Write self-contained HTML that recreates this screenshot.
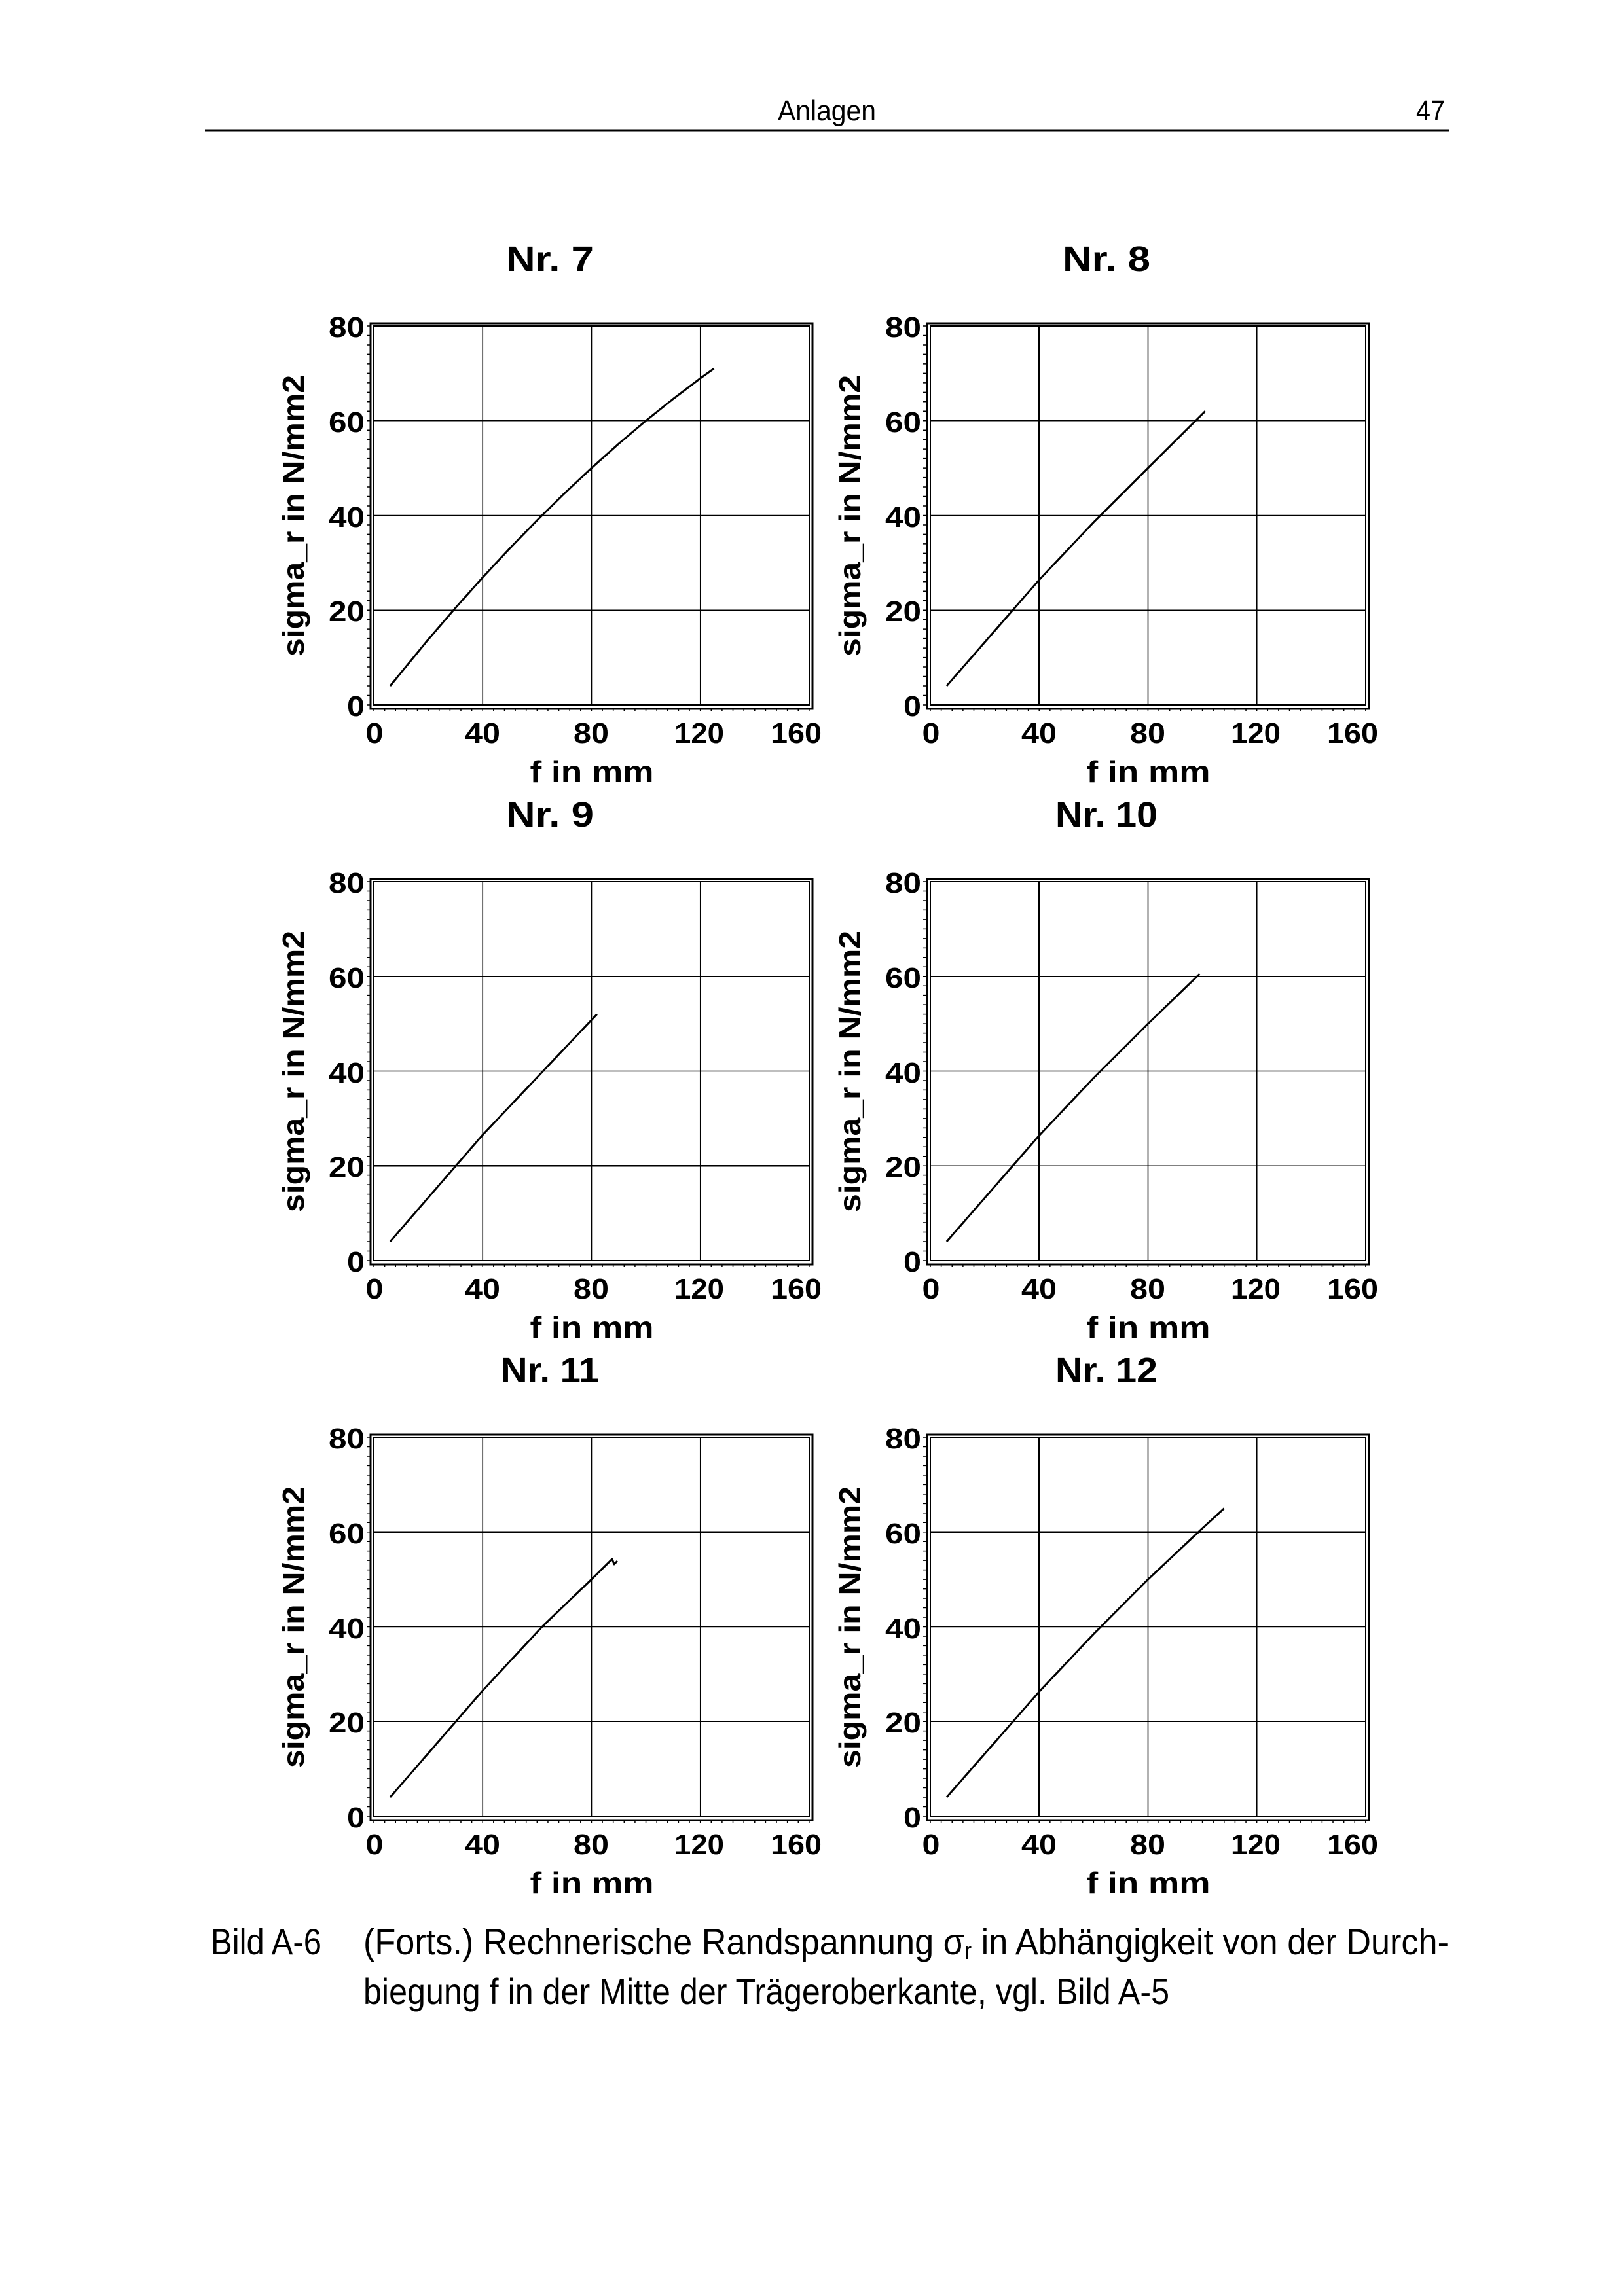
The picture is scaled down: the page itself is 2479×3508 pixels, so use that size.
<!DOCTYPE html>
<html><head><meta charset="utf-8"><style>
html,body{margin:0;padding:0;background:#fff}
svg{display:block}
text{font-family:"Liberation Sans",Arial,sans-serif;fill:#000}
.t{font-size:44px;font-weight:bold}
.ax{font-size:46px;font-weight:bold}
.ti{font-size:54px;font-weight:bold}
</style></head><body>
<svg width="2479" height="3508" viewBox="0 0 2479 3508" xmlns="http://www.w3.org/2000/svg">
<defs>
<g id="frame" fill="none" stroke="#000">
<rect x="-5" y="-4" width="675" height="589" stroke-width="3"/>
<rect x="0" y="0" width="665" height="579" stroke-width="2"/>
<path d="M166.25 0V579M332.5 0V579M498.75 0V579M0 144.75H665M0 289.5H665M0 434.25H665" stroke-width="1.6"/>
<line x1="-8" y1="-0.75" x2="-8" y2="580" stroke-width="6" stroke-dasharray="1.5 12.97375"/>
<line x1="-0.75" y1="587" x2="666" y2="587" stroke-width="4" stroke-dasharray="1.5 15.122"/>
</g>
<g id="lab">
<g class="t" text-anchor="end"><text x="-14" y="17" textLength="55" lengthAdjust="spacingAndGlyphs">80</text><text x="-14" y="162" textLength="55" lengthAdjust="spacingAndGlyphs">60</text><text x="-14" y="307" textLength="55" lengthAdjust="spacingAndGlyphs">40</text><text x="-14" y="451" textLength="55" lengthAdjust="spacingAndGlyphs">20</text><text x="-14" y="596" textLength="27" lengthAdjust="spacingAndGlyphs">0</text></g>
<g class="t" text-anchor="middle"><text x="1" y="637" textLength="27" lengthAdjust="spacingAndGlyphs">0</text><text x="166" y="637" textLength="54" lengthAdjust="spacingAndGlyphs">40</text><text x="332" y="637" textLength="54" lengthAdjust="spacingAndGlyphs">80</text><text x="497" y="637" textLength="76" lengthAdjust="spacingAndGlyphs">120</text><text x="645" y="637" textLength="78" lengthAdjust="spacingAndGlyphs">160</text></g>
<text class="ax" x="333" y="697" text-anchor="middle" textLength="189" lengthAdjust="spacingAndGlyphs">f in mm</text>
<text class="ax" transform="translate(-107,290) rotate(-90)" text-anchor="middle" textLength="430" lengthAdjust="spacingAndGlyphs">sigma_r in N/mm2</text>
</g>
</defs>

<text x="1188" y="184" font-size="44" textLength="150" lengthAdjust="spacingAndGlyphs">Anlagen</text>
<text x="2163" y="184" font-size="44" textLength="44" lengthAdjust="spacingAndGlyphs">47</text>
<line x1="313" y1="199" x2="2213" y2="199" stroke="#000" stroke-width="3"/>

<g transform="translate(571,498)">
<use href="#frame"/><use href="#lab"/>
<path d="M24.9,550 L83.1,479.1 L124.7,430.8 L166.2,384.3 L207.8,339.7 L249.4,296.9 L290.9,256.1 L332.5,217.1 L374,180 L415.6,144.75 L457.2,111.5 L498.7,80 L519.5,65.1" fill="none" stroke="#000" stroke-width="3" stroke-linejoin="round"/>
<text class="ti" x="269" y="-84" text-anchor="middle" textLength="134" lengthAdjust="spacingAndGlyphs">Nr. 7</text>
</g>

<g transform="translate(1421,498)">
<use href="#frame"/><use href="#lab"/>
<path d="M166.25 0V579" stroke="#000" stroke-width="2.6"/>
<path d="M24.9,550 L166.2,388 L249.4,300 L332.5,217.1 L419.8,130.3" fill="none" stroke="#000" stroke-width="3" stroke-linejoin="round"/>
<text class="ti" x="269" y="-84" text-anchor="middle" textLength="134" lengthAdjust="spacingAndGlyphs">Nr. 8</text>
</g>

<g transform="translate(571,1347)">
<use href="#frame"/><use href="#lab"/>
<path d="M0 434.25H665" stroke="#000" stroke-width="2.6"/>
<path d="M24.9,550 L166.2,387 L340.8,202.6" fill="none" stroke="#000" stroke-width="3"/>
<text class="ti" x="269" y="-84" text-anchor="middle" textLength="134" lengthAdjust="spacingAndGlyphs">Nr. 9</text>
</g>

<g transform="translate(1421,1347)">
<use href="#frame"/><use href="#lab"/>
<path d="M166.25 0V579" stroke="#000" stroke-width="2.6"/>
<path d="M24.9,550 L166.2,388 L249.4,300 L332.5,217.1 L411.4,141.1" fill="none" stroke="#000" stroke-width="3" stroke-linejoin="round"/>
<text class="ti" x="269" y="-84" text-anchor="middle" textLength="156" lengthAdjust="spacingAndGlyphs">Nr. 10</text>
</g>

<g transform="translate(571,2196)">
<use href="#frame"/><use href="#lab"/>
<path d="M0 144.75H665" stroke="#000" stroke-width="2.6"/>
<path d="M24.9,550 L166.2,387 L257,289.5 L332.5,217 L364,186 L367,194 L372,189" fill="none" stroke="#000" stroke-width="3" stroke-linejoin="round"/>
<text class="ti" x="269" y="-84" text-anchor="middle" textLength="150" lengthAdjust="spacingAndGlyphs">Nr. 11</text>
</g>

<g transform="translate(1421,2196)">
<use href="#frame"/><use href="#lab"/>
<path d="M166.25 0V579M0 144.75H665" stroke="#000" stroke-width="2.6"/>
<path d="M24.9,550 L166.2,388.7 L249.4,300.6 L332.5,217.1 L415.6,139 L448.8,108.6" fill="none" stroke="#000" stroke-width="3" stroke-linejoin="round"/>
<text class="ti" x="269" y="-84" text-anchor="middle" textLength="156" lengthAdjust="spacingAndGlyphs">Nr. 12</text>
</g>

<text x="322" y="2986" font-size="56" textLength="169" lengthAdjust="spacingAndGlyphs">Bild A-6</text>
<text x="555" y="2986" font-size="56" textLength="1658" lengthAdjust="spacingAndGlyphs">(Forts.) Rechnerische Randspannung σ<tspan font-size="36" dy="7">r</tspan><tspan dy="-7"> in Abhängigkeit von der Durch-</tspan></text>
<text x="555" y="3062" font-size="56" textLength="1231" lengthAdjust="spacingAndGlyphs">biegung f in der Mitte der Trägeroberkante, vgl. Bild A-5</text>
</svg>
</body></html>
